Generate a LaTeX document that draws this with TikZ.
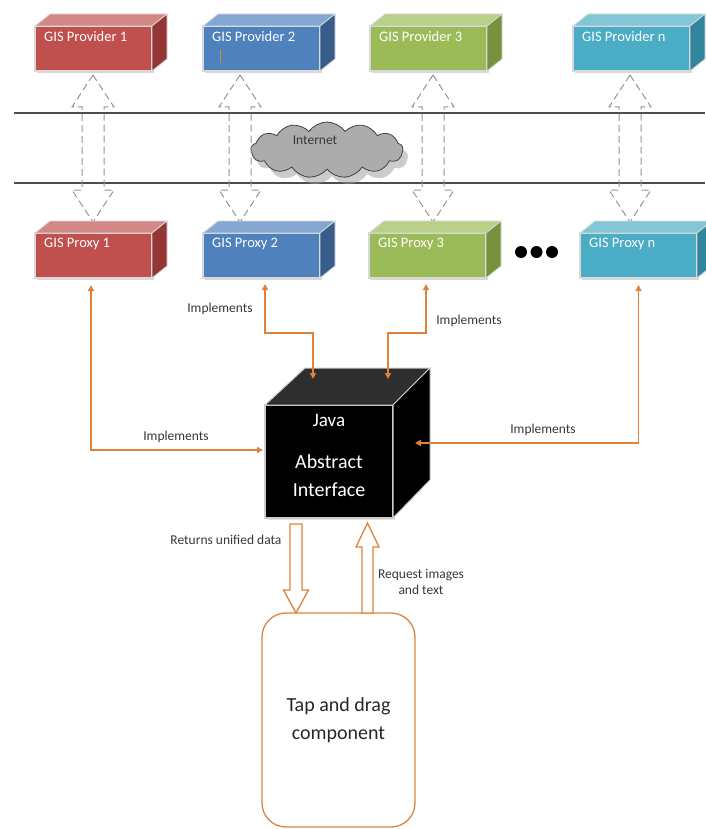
\documentclass[tikz,border=0pt]{standalone}
\usepackage{fontspec}
\setmainfont{Carlito}
\usetikzlibrary{arrows.meta,shapes.symbols,shadows}
\definecolor{predm}{HTML}{C0504D}\definecolor{predside}{HTML}{943634}\definecolor{predtop}{HTML}{D38886}
\definecolor{pbluem}{HTML}{4F81BD}\definecolor{pblueside}{HTML}{385D8A}\definecolor{pbluetop}{HTML}{84A7D2}
\definecolor{pgreenm}{HTML}{9BBB59}\definecolor{pgreenside}{HTML}{76923C}\definecolor{pgreentop}{HTML}{B9CF8A}
\definecolor{pcyanm}{HTML}{4BACC6}\definecolor{pcyanside}{HTML}{31859C}\definecolor{pcyantop}{HTML}{82C6D8}
\definecolor{orng}{HTML}{E0823A}
\definecolor{lbl}{HTML}{3A3440}
\tikzset{
  face/.style={draw=white!85!black, line width=1.2pt, outer sep=0pt, inner sep=0pt,
    drop shadow={shadow xshift=1.5pt, shadow yshift=-2pt, fill=gray!60}},
  boxtext/.style={anchor=north west, text=white, font=\fontsize{14.5}{16}\selectfont, inner sep=2pt},
  imp/.style={draw=orng, line width=1.4pt, {Triangle[length=6pt,width=6pt]}-{Triangle[length=6pt,width=6pt]}},
  implbl/.style={text=lbl, font=\fontsize{13.5}{16}\selectfont},
  dashdbl/.style={draw=gray!85, line width=1pt, dash pattern=on 7pt off 4pt},
  blockarr/.style={draw=orng, fill=white, line width=1.3pt, line join=miter},
  netline/.style={draw=black!70, line width=1.6pt},
}
\newcommand\gbox[6]{%
  \node[face, fill=#5m, minimum width=#4pt, minimum height=45pt, anchor=north west] (#1) at (#2,#3) {};
  \fill[#5top, draw=white!85!black, line width=0.8pt] (#1.north west) -- ++(15,-12) -- ++(#4,0) -- (#1.north east) -- cycle;
  \fill[#5side, draw=white!85!black, line width=0.8pt] (#1.north east) -- ++(15,-12) -- ++(0,45) -- (#1.south east) -- cycle;
  \node[boxtext] at ([xshift=7pt,yshift=-3pt]#1.north west) {#6};
}
\newcommand\dbl[1]{%
  \draw[dashdbl] (#1,75) -- ({#1+21},107) -- ({#1+11},107) -- ({#1+11},190) -- ({#1+21},190) -- (#1,222)
    -- ({#1-21},190) -- ({#1-11},190) -- ({#1-11},107) -- ({#1-21},107) -- cycle;
}
\newcommand\vblock[6]{%
  \draw[blockarr] (#1,#2) -- ({#1+#6},#3) -- ({#1+#5},#3) -- ({#1+#5},#4) -- ({#1-#5},#4) -- ({#1-#5},#3) -- ({#1-#6},#3) -- cycle;
}
\begin{document}
\begin{tikzpicture}[x=1pt,y=-1pt]
\useasboundingbox (0,0) rectangle (705,829);
% network lines
\draw[netline] (14,113) -- (705,113);
\draw[netline] (14,183) -- (705,183);
% cloud
\node[cloud, cloud puffs=13, cloud puff arc=110, aspect=2.6, fill=gray!65, draw=black!75, line width=0.8pt,
  minimum width=152pt, minimum height=56pt, inner sep=0pt,
  drop shadow={shadow xshift=5pt, shadow yshift=-7pt, fill=gray!80}] (inet) at (327,150) {};
\node[implbl] (inettxt) at (315,140) {Internet};
% dashed double arrows
\dbl{93}
\dbl{240}
\dbl{433}
\dbl{630}
% providers
\gbox{P1}{35}{26}{117}{pred}{GIS Provider 1}
\gbox{P2}{203}{26}{117}{pblue}{GIS Provider 2}
\gbox{P3}{370}{26}{117}{pgreen}{GIS Provider 3}
\gbox{Pn}{573}{26}{117}{pcyan}{GIS Provider n}
\draw[orng, line width=1pt] (220,50) -- (220,63);
% proxies
\gbox{X1}{35}{233}{117}{pred}{GIS Proxy 1}
\gbox{X2}{203}{233}{117}{pblue}{GIS Proxy 2}
\gbox{X3}{369}{233}{117}{pgreen}{GIS Proxy 3}
\gbox{Xn}{580}{233}{117}{pcyan}{GIS Proxy n}
% dots
\fill (521,252) circle (6) (536.5,252) circle (6) (552,252) circle (6);
% Java cube
\node[draw=white!80!black, line width=1.5pt, fill=black, minimum width=128pt, minimum height=113pt,
  anchor=north west, inner sep=0pt, outer sep=0pt,
  drop shadow={shadow xshift=2pt, shadow yshift=-2pt, fill=gray!40}] (java) at (265,405) {};
\fill[black!82, draw=white!80!black, line width=1pt] (java.north west) -- ++(40,-37) -- ++(125,0) -- (java.north east) -- cycle;
\fill[black, draw=white!80!black, line width=1pt] (java.north east) -- ++(37,-37) -- ++(0,112) -- (java.south east) -- cycle;
\node[text=white, font=\fontsize{19}{22}\selectfont] (javatxt) at (329,420) {Java};
\node[text=white, font=\fontsize{20}{28}\selectfont, align=center] (abstxt) at (329,476) {Abstract\\Interface};
% orange connectors
\coordinate (jl) at (263,450);
\coordinate (jr) at (415,443);
\coordinate (jt1) at (313,379);
\coordinate (jt2) at (388,379);
\draw[imp] ([xshift=-2.5pt,yshift=-7pt]X1.south) |- (jl);
\draw[imp] ([xshift=3.5pt,yshift=-6pt]X2.south) |- ([yshift=46pt]jt1) -- (jt1);
\draw[imp] ([xshift=-1.5pt,yshift=-6pt]X3.south) |- ([yshift=46pt]jt2) -- (jt2);
\draw[imp] ([yshift=-7pt]Xn.south) |- (jr);
\node[implbl] (l1) at (176,437) {Implements};
\node[implbl] (l2) at (220,309) {Implements};
\node[implbl] (l3) at (469,321) {Implements};
\node[implbl] (l4) at (543,430) {Implements};
% tap and drag
\node[draw=orng, line width=1.3pt, rounded corners=24pt, minimum width=153pt, minimum height=214pt,
  anchor=north west, inner sep=0pt, outer sep=0pt, align=center,
  font=\fontsize{20}{28}\selectfont, text=black!85] (tap) at (262,613) {Tap and drag\\component};
% block arrows
\vblock{296}{613}{590}{524}{6}{12.5}
\vblock{367.5}{523}{547}{613}{5.5}{11.5}
\node[implbl, anchor=east] (ret) at (285,540) {Returns unified data};
\node[implbl, align=center] (req) at (421,582) {Request images\\and text};
\end{tikzpicture}
\end{document}
